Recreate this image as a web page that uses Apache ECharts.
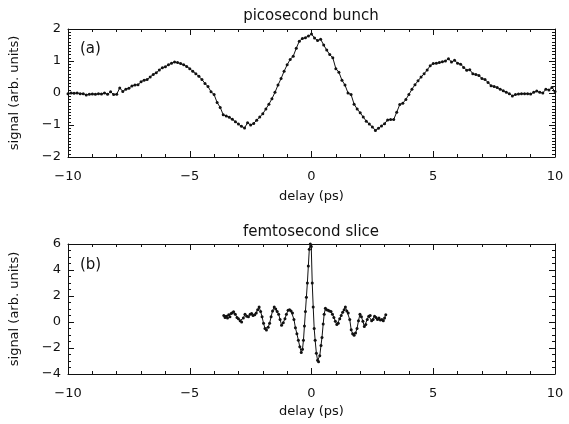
<!DOCTYPE html>
<html>
    <head>
        <script src="https://cdn.jsdelivr.net/npm/echarts@6.0.0/dist/echarts.min.js"></script>
        <style>
            html, body {margin: 0; padding: 0; background: #fff;}
            #chart {width: 569px; height: 424px;}
        </style>
    </head>
    <body>
        <div id="chart"></div>
        <script>
            // panel (a): picosecond bunch, [delay ps, signal]
            const bunchPoints = [
                [-10,-0.02],[-9.875,0],[-9.75,-0.01],[-9.625,0],[-9.5,-0.02],[-9.375,-0.02],[-9.25,-0.06],[-9.125,-0.04],
                [-9,-0.03],[-8.875,-0.04],[-8.75,-0.02],[-8.625,-0.03],[-8.5,0],[-8.375,-0.04],[-8.25,0.04],[-8.125,-0.05],
                [-8,-0.04],[-7.875,0.16],[-7.75,0.05],[-7.625,0.12],[-7.5,0.15],[-7.375,0.22],[-7.25,0.25],[-7.125,0.26],
                [-7,0.35],[-6.875,0.4],[-6.75,0.42],[-6.625,0.5],[-6.5,0.58],[-6.375,0.63],[-6.25,0.72],[-6.125,0.79],
                [-6,0.82],[-5.875,0.88],[-5.75,0.93],[-5.625,0.97],[-5.5,0.95],[-5.375,0.92],[-5.25,0.88],[-5.125,0.83],
                [-5,0.76],[-4.875,0.68],[-4.75,0.6],[-4.625,0.52],[-4.5,0.42],[-4.375,0.3],[-4.25,0.2],[-4.125,0.04],
                [-4,-0.05],[-3.875,-0.3],[-3.75,-0.45],[-3.625,-0.68],[-3.5,-0.72],[-3.375,-0.76],[-3.25,-0.82],[-3.125,-0.9],
                [-3,-0.97],[-2.875,-1.04],[-2.75,-1.09],[-2.625,-0.93],[-2.5,-1.0],[-2.375,-0.95],[-2.25,-0.85],[-2.125,-0.75],
                [-2,-0.65],[-1.875,-0.5],[-1.75,-0.35],[-1.625,-0.18],[-1.5,0.02],[-1.375,0.25],[-1.25,0.45],[-1.125,0.68],
                [-1,0.88],[-0.875,1.05],[-0.75,1.15],[-0.625,1.4],[-0.5,1.62],[-0.375,1.7],[-0.25,1.73],[-0.125,1.78],
                [0,1.84],[0.125,1.72],[0.25,1.64],[0.375,1.68],[0.5,1.5],[0.625,1.34],[0.75,1.2],[0.875,1.1],
                [1,0.76],[1.125,0.65],[1.25,0.4],[1.375,0.25],[1.5,0],[1.625,-0.05],[1.75,-0.35],[1.875,-0.5],
                [2,-0.62],[2.125,-0.75],[2.25,-0.88],[2.375,-0.97],[2.5,-1.06],[2.625,-1.17],[2.75,-1.1],[2.875,-1.03],
                [3,-0.96],[3.125,-0.84],[3.25,-0.83],[3.375,-0.83],[3.5,-0.6],[3.625,-0.36],[3.75,-0.32],[3.875,-0.2],
                [4,-0.05],[4.125,0.12],[4.25,0.26],[4.375,0.38],[4.5,0.5],[4.625,0.6],[4.75,0.72],[4.875,0.85],
                [5,0.92],[5.125,0.93],[5.25,0.95],[5.375,0.98],[5.5,1.0],[5.625,1.07],[5.75,0.97],[5.875,1.02],
                [6,0.93],[6.125,0.9],[6.25,0.8],[6.375,0.71],[6.5,0.73],[6.625,0.6],[6.75,0.58],[6.875,0.55],
                [7,0.45],[7.125,0.42],[7.25,0.33],[7.375,0.23],[7.5,0.2],[7.625,0.17],[7.75,0.12],[7.875,0.07],
                [8,0.02],[8.125,-0.02],[8.25,-0.09],[8.375,-0.05],[8.5,-0.03],[8.625,-0.02],[8.75,-0.02],[8.875,-0.02],
                [9,-0.03],[9.125,0.02],[9.25,0.06],[9.375,0.02],[9.5,0],[9.625,0.12],[9.75,0.09],[9.875,0.17],[10,0.05]
            ];
            // panel (b): femtosecond slice
            const slicePoints = [
                [-3.6,0.5],[-3.55,0.35],[-3.5,0.45],[-3.45,0.3],[-3.4,0.55],[-3.35,0.4],[-3.3,0.65],[-3.25,0.72],
                [-3.2,0.78],[-3.13,0.6],[-3.06,0.35],[-3.0,0.25],[-2.93,0.1],[-2.87,0],[-2.8,0.3],[-2.73,0.6],
                [-2.66,0.45],[-2.59,0.4],[-2.52,0.6],[-2.46,0.65],[-2.4,0.5],[-2.33,0.55],[-2.27,0.7],[-2.21,0.95],
                [-2.15,1.15],[-2.09,0.8],[-2.03,0.4],[-1.97,-0.1],[-1.91,-0.5],[-1.85,-0.62],[-1.78,-0.4],[-1.72,-0.1],
                [-1.66,0.4],[-1.6,0.85],[-1.53,1.15],[-1.47,1.0],[-1.41,0.8],[-1.35,0.6],[-1.29,0.2],[-1.23,-0.25],
                [-1.16,-0.05],[-1.09,0.25],[-1.03,0.6],[-0.96,0.9],[-0.9,0.95],[-0.84,0.85],[-0.78,0.7],[-0.72,0.2],
                [-0.66,-0.45],[-0.6,-0.9],[-0.54,-1.4],[-0.48,-1.9],[-0.42,-2.35],[-0.37,-2.1],[-0.33,-1.4],[-0.29,-0.3],
                [-0.25,0.8],[-0.21,1.9],[-0.17,3.0],[-0.13,4.3],[-0.09,5.6],[-0.05,6.0],[-0.01,5.8],[0.03,3.0],
                [0.07,1.15],[0.11,-0.5],[0.15,-1.4],[0.2,-2.4],[0.25,-2.95],[0.29,-3.05],[0.34,-2.6],[0.39,-1.8],
                [0.43,-1.2],[0.48,-0.15],[0.52,0.6],[0.57,1.05],[0.62,0.95],[0.68,0.9],[0.74,0.85],[0.8,0.8],
                [0.86,0.6],[0.92,0.35],[0.98,0.05],[1.04,-0.2],[1.1,-0.1],[1.16,0.25],[1.22,0.5],[1.28,0.75],
                [1.34,0.95],[1.39,1.15],[1.45,0.85],[1.51,0.7],[1.57,0.2],[1.63,-0.6],[1.69,-0.9],[1.75,-1.02],
                [1.81,-0.85],[1.87,-0.5],[1.93,0.1],[1.99,0.6],[2.05,0.4],[2.11,0.05],[2.17,-0.35],[2.23,-0.2],
                [2.29,0.2],[2.35,0.45],[2.41,0.5],[2.47,0.1],[2.53,0.2],[2.59,0.45],[2.65,0.35],[2.71,0.2],
                [2.77,0.3],[2.83,0.15],[2.89,0.2],[2.95,0.1],[3.0,0.3],[3.05,0.55]
            ];
            const panelTitles = ['picosecond bunch', 'femtosecond slice'];
            const panelTags = ['(a)', '(b)'];
            const delayRange = [-10, 10];
            const bunchRange = [-2, 2];
            const sliceRange = [-4, 6];

            const font = 'DejaVu Sans';
            const ink = '#111';
            const minus = v => String(v).replace('-', '\u2212');

            function makeX(grid, bottom, gap){
                return {
                    type: 'value', gridIndex: grid, position: bottom ? 'bottom' : 'top',
                    min: delayRange[0], max: delayRange[1], interval: 5,
                    name: bottom ? 'delay (ps)' : '', nameLocation: 'middle', nameGap: gap, nameMoveOverlap: false,
                    nameTextStyle: {fontFamily: font, fontSize: 13, color: ink, verticalAlign: 'top'},
                    axisLine: {show: true, onZero: false, lineStyle: {color: ink, width: 1}},
                    axisTick: {show: true, inside: true, length: 6, lineStyle: {color: ink}},
                    minorTick: {show: true, splitNumber: 5, length: 3, lineStyle: {color: ink}},
                    axisLabel: {show: bottom, margin: 7, fontFamily: font, fontSize: 13, color: ink,
                                formatter: minus, showMinLabel: true, showMaxLabel: true, hideOverlap: false},
                    splitLine: {show: false}
                };
            }
            function makeY(grid, left, range, step, minor){
                return {
                    type: 'value', gridIndex: grid, position: left ? 'left' : 'right',
                    min: range[0], max: range[1], interval: step,
                    name: left ? 'signal (arb. units)' : '', nameLocation: 'middle', nameGap: 40,
                    nameTextStyle: {fontFamily: font, fontSize: 13, color: ink},
                    axisLine: {show: true, onZero: false, lineStyle: {color: ink, width: 1}},
                    axisTick: {show: true, inside: true, length: 6, lineStyle: {color: ink}},
                    minorTick: {show: true, splitNumber: minor, length: 3, lineStyle: {color: ink}},
                    axisLabel: {show: left, margin: 7, fontFamily: font, fontSize: 13, color: ink,
                                formatter: minus, showMinLabel: true, showMaxLabel: true, hideOverlap: false},
                    splitLine: {show: false}
                };
            }
            function makeSeries(data, idx){
                return {
                    type: 'line', data: data, xAxisIndex: idx, yAxisIndex: idx,
                    symbol: 'circle', symbolSize: 3, showSymbol: true,
                    lineStyle: {color: ink, width: 1}, itemStyle: {color: ink},
                    animation: false, clip: false
                };
            }

            const chart = echarts.init(document.getElementById('chart'));
            chart.setOption({
                backgroundColor: '#fff',
                animation: false,
                title: [
                    {text: panelTitles[0], left: 311, top: 1, padding: 0, textAlign: 'center',
                     textStyle: {fontFamily: font, fontSize: 15, fontWeight: 'normal', color: ink}},
                    {text: panelTitles[1], left: 311, top: 217, padding: 0, textAlign: 'center',
                     textStyle: {fontFamily: font, fontSize: 15, fontWeight: 'normal', color: ink}}
                ],
                graphic: [
                    {type: 'text', left: 80, top: 34, style: {text: panelTags[0], font: '15px "DejaVu Sans"', fill: ink}},
                    {type: 'text', left: 80, top: 250, style: {text: panelTags[1], font: '15px "DejaVu Sans"', fill: ink}}
                ],
                grid: [
                    {left: 68, right: 14, top: 29, height: 128, outerBoundsMode: 'none', containLabel: false},
                    {left: 68, right: 14, top: 244, height: 130, outerBoundsMode: 'none', containLabel: false}
                ],
                xAxis: [makeX(0, true, 27), makeX(0, false, 0), makeX(1, true, 25), makeX(1, false, 0)],
                yAxis: [
                    makeY(0, true, bunchRange, 1, 10), makeY(0, false, bunchRange, 1, 10),
                    makeY(1, true, sliceRange, 2, 4), makeY(1, false, sliceRange, 2, 4)
                ],
                series: [makeSeries(bunchPoints, 0), makeSeries(slicePoints, 2)]
            });
        </script>
    </body>
</html>
